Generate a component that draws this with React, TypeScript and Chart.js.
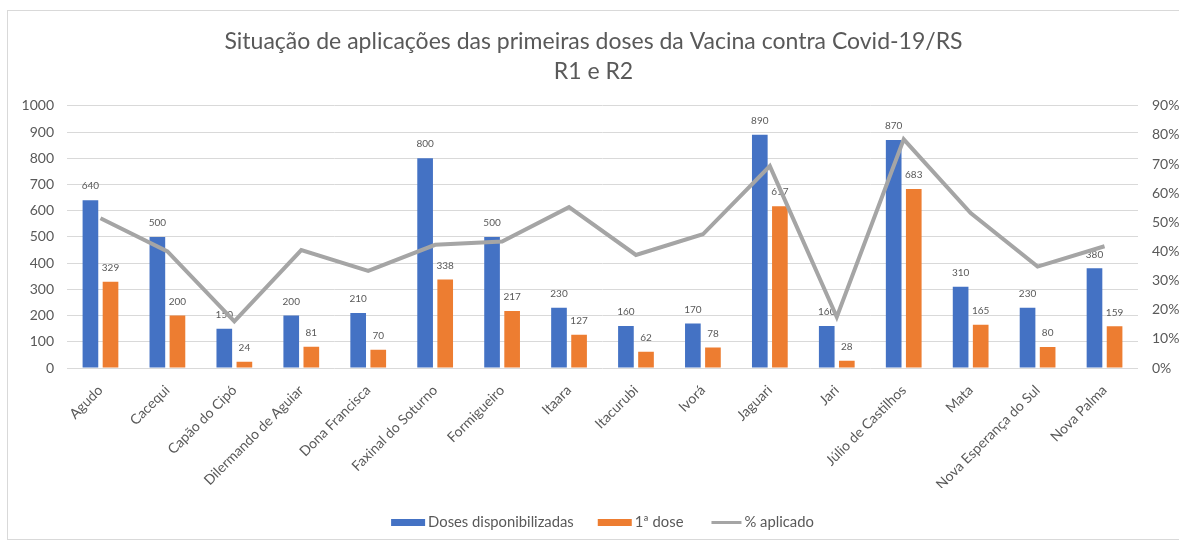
import React, { useEffect, useRef } from "react";
import { Chart, registerables } from "chart.js";

Chart.register(...registerables);

const categories = [
  "Agudo",
  "Cacequi",
  "Capão do Cipó",
  "Dilermando de Aguiar",
  "Dona Francisca",
  "Faxinal do Soturno",
  "Formigueiro",
  "Itaara",
  "Itacurubi",
  "Ivorá",
  "Jaguari",
  "Jari",
  "Júlio de Castilhos",
  "Mata",
  "Nova Esperança do Sul",
  "Nova Palma",
];

const dosesDisponibilizadas = [640, 500, 150, 200, 210, 800, 500, 230, 160, 170, 890, 160, 870, 310, 230, 380];
const primeiraDose = [329, 200, 24, 81, 70, 338, 217, 127, 62, 78, 617, 28, 683, 165, 80, 159];
const percentAplicado = [51.4, 40.0, 16.0, 40.5, 33.3, 42.3, 43.4, 55.2, 38.8, 45.9, 69.3, 17.5, 78.5, 53.2, 34.8, 41.8];

const leftTicks = { min: 0, max: 1000, step: 100 };
const rightTicks = { min: 0, max: 90, step: 10 };

const titleLines = ["Situação de aplicações das primeiras doses da Vacina contra Covid-19/RS", "R1 e R2"];

const FONT = "Lato, sans-serif";
const TEXT = "#595959";

const barLabels = {
  id: "barLabels",
  afterDatasetDraw(chart: any, args: any) {
    const ds = chart.data.datasets[args.index];
    if (ds.type === "line") return;
    const ctx = chart.ctx;
    ctx.save();
    ctx.font = `10px ${FONT}`;
    ctx.fillStyle = TEXT;
    ctx.textAlign = "center";
    ctx.textBaseline = "middle";
    args.meta.data.forEach((el: any, i: number) => {
      ctx.fillText(String(ds.data[i]), el.x, el.y - 14);
    });
    ctx.restore();
  },
};

// Excel-style legend drawn at the bottom, centred on the plot area
const bottomLegend = {
  id: "bottomLegend",
  afterDraw(chart: any) {
    const ctx = chart.ctx;
    const datasets = chart.data.datasets;
    const swatchW = 34;
    const swatchH = 7;
    const textGap = 3;
    const itemGap = 24;
    const cy = 511.5;
    ctx.save();
    ctx.font = `14.8px ${FONT}`;
    const widths = datasets.map((d: any) => swatchW + textGap + ctx.measureText(d.label).width);
    const total = widths.reduce((a: number, b: number) => a + b, 0) + itemGap * (datasets.length - 1);
    const area = chart.chartArea;
    let x = (area.left + area.right) / 2 - total / 2;
    datasets.forEach((d: any, i: number) => {
      if (d.type === "line") {
        ctx.strokeStyle = d.borderColor;
        ctx.lineWidth = 3;
        ctx.beginPath();
        ctx.moveTo(x + 4, cy);
        ctx.lineTo(x + swatchW, cy);
        ctx.stroke();
      } else {
        ctx.fillStyle = d.backgroundColor;
        ctx.fillRect(x, cy - swatchH / 2, swatchW, swatchH);
      }
      ctx.fillStyle = TEXT;
      ctx.textAlign = "left";
      ctx.textBaseline = "middle";
      ctx.fillText(d.label, x + swatchW + textGap, cy);
      x += widths[i] + itemGap;
    });
    ctx.restore();
  },
};

export default function App() {
  const ref = useRef<HTMLCanvasElement | null>(null);
  useEffect(() => {
    if (!ref.current) return;
    const chart = new Chart(ref.current, {
      type: "bar",
      data: {
        labels: categories,
        datasets: [
          {
            type: "bar",
            label: "Doses disponibilizadas",
            data: dosesDisponibilizadas,
            backgroundColor: "#4472C4",
            yAxisID: "y",
            categoryPercentage: 0.6,
            barPercentage: 0.78,
            order: 1,
          },
          {
            type: "bar",
            label: "1ª dose",
            data: primeiraDose,
            backgroundColor: "#ED7D31",
            yAxisID: "y",
            categoryPercentage: 0.6,
            barPercentage: 0.78,
            order: 1,
          },
          {
            type: "line",
            label: "% aplicado",
            data: percentAplicado,
            borderColor: "#A5A5A5",
            backgroundColor: "#A5A5A5",
            borderWidth: 4,
            pointRadius: 0,
            tension: 0,
            yAxisID: "y1",
            order: -1,
          },
        ] as any,
      },
      options: {
        animation: false,
        responsive: false,
        maintainAspectRatio: false,
        layout: { padding: { left: 0, right: 0, top: 0, bottom: 51 } },
        plugins: {
          title: {
            display: true,
            text: titleLines,
            color: TEXT,
            font: { family: FONT, size: 23, weight: "normal", lineHeight: 1.3 },
            padding: { top: 16, bottom: 19 },
          },
          legend: { display: false },
          tooltip: { enabled: false },
        },
        scales: {
          x: {
            grid: { display: false, drawTicks: false },
            border: { display: false },
            ticks: {
              color: TEXT,
              font: { family: FONT, size: 14 },
              minRotation: 45,
              maxRotation: 45,
              autoSkip: false,
              padding: 14,
            },
            afterFit(scale: any) {
              scale.height = 120;
            },
          },
          y: {
            position: "left",
            min: leftTicks.min,
            max: leftTicks.max,
            grid: { color: "#D9D9D9", drawTicks: false },
            border: { display: false },
            ticks: {
              stepSize: leftTicks.step,
              color: TEXT,
              font: { family: FONT, size: 14 },
              padding: 13,
              callback: (v: any) => String(v),
            },
            afterFit(scale: any) {
              scale.width = 59;
            },
          },
          y1: {
            position: "right",
            min: rightTicks.min,
            max: rightTicks.max,
            grid: { display: false, drawTicks: false },
            border: { display: false },
            ticks: {
              stepSize: rightTicks.step,
              color: TEXT,
              font: { family: FONT, size: 14 },
              padding: 14,
              callback: (v: any) => v + "%",
            },
            afterFit(scale: any) {
              scale.width = 41;
            },
          },
        },
      },
      plugins: [barLabels, bottomLegend],
    });
    return () => chart.destroy();
  }, []);

  return (
    <div
      style={{
        position: "absolute",
        left: 7,
        top: 10,
        width: 1172,
        height: 530,
        borderTop: "1px solid #D9D9D9",
        borderBottom: "1px solid #D9D9D9",
        borderLeft: "1px solid #D9D9D9",
        boxSizing: "border-box",
        background: "#fff",
        overflow: "hidden",
      }}
    >
      <canvas ref={ref} width={1171} height={528} style={{ display: "block" }} />
    </div>
  );
}
